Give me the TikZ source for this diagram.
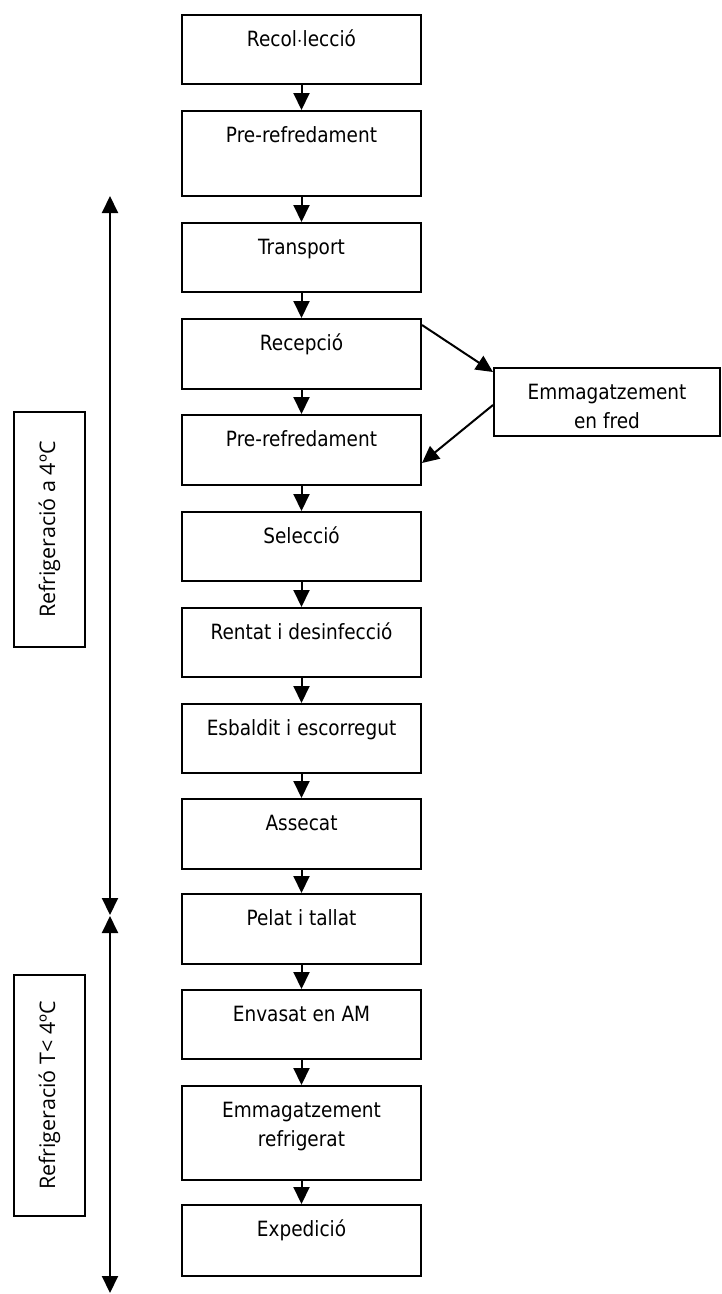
\documentclass[tikz,border=0pt]{standalone}
\usepackage{fontspec}
\setmainfont{DejaVu Sans}[FakeStretch=0.88]
\newfontfamily\sidefont{Open Sans}
\usetikzlibrary{arrows.meta}

\tikzset{
  stage/.style={draw,line width=2pt,minimum width=239pt,inner xsep=2pt,inner ysep=0pt,
    text height=31pt,text depth=#1,align=center,anchor=north,
    font=\fontsize{21}{29}\selectfont},
  stage/.default=38pt,
  side/.style={draw,line width=1.5pt,rotate=90,minimum width=#1,minimum height=71pt,
    font=\sidefont\fontsize{21.5}{24}\selectfont},
  flow/.style={-{Triangle[length=17pt,width=16pt]},line width=2pt},
  span/.style={{Triangle[length=17pt,width=16pt]}-{Triangle[length=17pt,width=16pt]},line width=2pt}
}

\begin{document}
\begin{tikzpicture}[x=1pt,y=-1pt]
    \useasboundingbox (0,0) rectangle (722,1294);

    % Process steps
    \node [stage] (recoleccio) at (301.5,14) {Recol$\cdot$lecció};
    \node [stage=54pt] (prerefr) at (301.5,110) {Pre-refredament};
    \node [stage] (transport) at (301.5,222) {Transport};
    \node [stage=39pt] (recepcio) at (301.5,318) {Recepció};
    \node [stage=39pt] (prerefrb) at (301.5,414) {Pre-refredament};
    \node [stage] (seleccio) at (301.5,511) {Selecció};
    \node [stage] (rentat) at (301.5,607) {Rentat i desinfecció};
    \node [stage] (esbaldit) at (301.5,703) {Esbaldit i escorregut};
    \node [stage=39pt] (assecat) at (301.5,798) {Assecat};
    \node [stage=39pt] (pelat) at (301.5,893) {Pelat i tallat};
    \node [stage] (envasat) at (301.5,989) {Envasat en AM};
    \node [stage=34pt,text height=60pt] (refrigerat) at (301.5,1085) {Emmagatzement\\refrigerat};
    \node [stage=40pt] (expedicio) at (301.5,1204) {Expedició};

    % Cold storage branch
    \node [stage=8pt,text height=60pt,minimum width=226pt] (fred) at (607,367) {Emmagatzement\\en fred};

    \foreach \a/\b in {recoleccio/prerefr,prerefr/transport,transport/recepcio,
        recepcio/prerefrb,prerefrb/seleccio,seleccio/rentat,rentat/esbaldit,
        esbaldit/assecat,assecat/pelat,pelat/envasat,envasat/refrigerat,
        refrigerat/expedicio}
        \draw [flow] (\a.south) -- (\b.north);

    \draw [flow] ([yshift=-7pt]recepcio.north east) -- ([yshift=-5pt]fred.north west);
    \draw [flow] ([yshift=-3pt]fred.west) -- ([yshift=-13pt]prerefrb.east);

    % Temperature ranges
    \coordinate (coldtop) at (110,196);
    \coordinate (coldend) at (110,915);
    \coordinate (chilltop) at (110,916);
    \coordinate (chillend) at (110,1293);
    \draw [span] (coldtop) -- (coldend);
    \draw [span] (chilltop) -- (chillend);

    \node [side=235pt] (cold) at (49.5,529.5) {Refrigeració a 4ºC};
    \node [side=241pt] (chill) at (49.5,1095.5) {Refrigeració T< 4ºC};

\end{tikzpicture}
\end{document}
